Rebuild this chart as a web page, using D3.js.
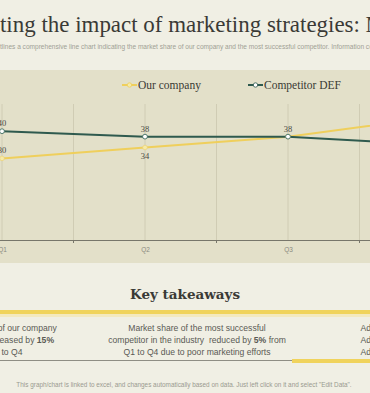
<!DOCTYPE html>
<html>
<head>
<meta charset="utf-8">
<script src="https://cdnjs.cloudflare.com/ajax/libs/d3/7.8.5/d3.min.js"></script>
<style>
  html, body { margin: 0; padding: 0; background: #f0efe4; overflow: hidden; }
</style>
</head>
<body>
<div id="chart"></div>
<script>
// Chart data
const quarters = ["Q1", "Q2", "Q3", "Q4"];
const ourCompany = [30, 34, 38, 45];
const competitor = [40, 38, 38, 35];
const seriesNames = ["Our company", "Competitor DEF"];

const width = 370;
const height = 393;

const svg = d3
  .select("#chart")
  .append("svg")
  .attr("width", width)
  .attr("height", height)
  .style("display", "block");

svg.append("rect").attr("width", width).attr("height", height).attr("fill", "#f0efe4");

// measure helper, used to fit the cropped slide texts
function measure(str, family, size) {
  const t = svg.append("text").style("font-family", family).style("font-size", size + "px").text(str);
  const w = t.node().getComputedTextLength();
  t.remove();
  return w;
}

// Title (the slide is cropped, so it starts left of the frame)
const titleFont = "'Liberation Serif', serif";
const titleSize = (25 * 360) / measure("ting the impact of marketing strategies:", titleFont, 25);
svg
  .append("text")
  .attr("x", -measure("Evalua", titleFont, titleSize))
  .attr("y", 32)
  .style("font-family", titleFont)
  .style("font-size", titleSize + "px")
  .attr("fill", "#3a3a36")
  .text("Evaluating the impact of marketing strategies: Market share");

const subFont = "'Liberation Sans', sans-serif";
const subSize =
  (6 * 370) /
  measure(
    "tlines a comprehensive line chart indicating the market share of our company and the most successful competitor. Information c",
    subFont,
    6
  );
svg
  .append("text")
  .attr("x", -measure("This slide ou", subFont, subSize))
  .attr("y", 49)
  .style("font-family", subFont)
  .style("font-size", subSize + "px")
  .attr("fill", "#a09f95")
  .text(
    "This slide outlines a comprehensive line chart indicating the market share of our company and the most successful competitor. Information covered in this slide is related to key takeaways."
  );

// Chart panel
svg.append("rect").attr("x", 0).attr("y", 70).attr("width", width).attr("height", 193).attr("fill", "#e3e0c9");

// Scales
const x = d3.scalePoint().domain(quarters).range([2, 431]);
const step = x.step();
const y = d3.scaleLinear().domain([0, 50]).range([240, 104]);

// vertical gridlines at categories and boundaries
const gridX = [];
quarters.forEach((q) => {
  gridX.push(x(q));
  gridX.push(x(q) + step / 2);
});
svg
  .selectAll(".grid")
  .data(gridX)
  .enter()
  .append("line")
  .attr("x1", (d) => d)
  .attr("x2", (d) => d)
  .attr("y1", y(50))
  .attr("y2", y(0))
  .attr("stroke", "#d0ccb4")
  .attr("stroke-width", 1);

// x axis
const xAxis = d3.axisBottom(x).tickSize(0).tickPadding(7);
const gx = svg.append("g").attr("transform", `translate(0, ${y(0)})`).call(xAxis);
gx.select(".domain").attr("stroke", "#77766a").attr("d", `M-10,0.5H${width + 10}`);
gx.selectAll("text")
  .style("font-family", "'Liberation Sans', sans-serif")
  .style("font-size", "6.5px")
  .attr("fill", "#8a8a80");
svg
  .selectAll(".tick-b")
  .data(quarters)
  .enter()
  .append("line")
  .attr("x1", (d) => x(d) + step / 2)
  .attr("x2", (d) => x(d) + step / 2)
  .attr("y1", y(0))
  .attr("y2", y(0) + 3)
  .attr("stroke", "#77766a");

// Lines
const line = d3
  .line()
  .x((d, i) => x(quarters[i]))
  .y((d) => y(d));

svg
  .append("path")
  .datum(ourCompany)
  .attr("d", line)
  .attr("fill", "none")
  .attr("stroke", "#efcf5c")
  .attr("stroke-width", 2);

svg
  .append("path")
  .datum(competitor)
  .attr("d", line)
  .attr("fill", "none")
  .attr("stroke", "#2f5a4e")
  .attr("stroke-width", 2);

// markers
svg
  .selectAll(".m-our")
  .data(ourCompany)
  .enter()
  .append("circle")
  .attr("cx", (d, i) => x(quarters[i]))
  .attr("cy", (d) => y(d))
  .attr("r", 2.3)
  .attr("fill", "#f6eaa8")
  .attr("stroke", "#ecd070")
  .attr("stroke-width", 0.6);

svg
  .selectAll(".m-comp")
  .data(competitor)
  .enter()
  .append("circle")
  .attr("cx", (d, i) => x(quarters[i]))
  .attr("cy", (d) => y(d))
  .attr("r", 2.4)
  .attr("fill", "#ffffff")
  .attr("stroke", "#3f6e62")
  .attr("stroke-width", 0.9);

// data labels
const labelFont = "'Liberation Serif', serif";
svg
  .selectAll(".l-comp")
  .data(competitor)
  .enter()
  .append("text")
  .attr("x", (d, i) => x(quarters[i]))
  .attr("y", (d) => y(d) - 5)
  .attr("text-anchor", "middle")
  .style("font-family", labelFont)
  .style("font-size", "8.5px")
  .attr("fill", "#4a4a44")
  .text((d) => d);

// our company labels: skip where they sit on top of the competitor label
const ourBelow = [false, true, false, true];
svg
  .selectAll(".l-our")
  .data(ourCompany.map((v, i) => ({ v, i })).filter((d) => d.v !== competitor[d.i]))
  .enter()
  .append("text")
  .attr("x", (d) => x(quarters[d.i]))
  .attr("y", (d) => (ourBelow[d.i] ? y(d.v) + 11 : y(d.v) - 5))
  .attr("text-anchor", "middle")
  .style("font-family", labelFont)
  .style("font-size", "8.5px")
  .attr("fill", "#4a4a44")
  .text((d) => d.v);

// Legend
const legendX = [122, 248];
const legendColors = ["#efcf5c", "#2f5a4e"];
const legendFill = ["#f6eaa8", "#ffffff"];
seriesNames.forEach((name, i) => {
  const g = svg.append("g").attr("transform", `translate(${legendX[i]}, 85)`);
  g.append("line").attr("x1", 0).attr("x2", 15).attr("y1", 0).attr("y2", 0)
    .attr("stroke", legendColors[i]).attr("stroke-width", 2);
  g.append("circle").attr("cx", 7.5).attr("cy", 0).attr("r", 2.2)
    .attr("fill", legendFill[i]).attr("stroke", legendColors[i]).attr("stroke-width", 0.8);
  g.append("text")
    .attr("x", 16)
    .attr("y", 4)
    .style("font-family", "'Liberation Serif', serif")
    .style("font-size", "11.5px")
    .attr("fill", "#3a3a34")
    .text(name);
});

// Key takeaways
svg
  .append("text")
  .attr("x", 185)
  .attr("y", 299)
  .attr("text-anchor", "middle")
  .style("font-family", "'DejaVu Serif', serif")
  .style("font-weight", "bold")
  .style("font-size", "13.5px")
  .attr("fill", "#3a3a36")
  .text("Key takeaways");

svg.append("rect").attr("x", 0).attr("y", 310).attr("width", width).attr("height", 4).attr("fill", "#f0d35c");
svg.append("rect").attr("x", 0).attr("y", 314).attr("width", width).attr("height", 3).attr("fill", "#f3e9bf");

const takeaways = [
  { cx: 1, lines: [["Market share of our company"], ["has been increased by ", "15%"], ["Q1 to Q4"]] },
  { cx: 197, lines: [["Market share of the most successful"], ["competitor in the industry  reduced by ", "5%", " from"], ["Q1 to Q4 due to poor marketing efforts"]] },
  { cx: 386, lines: [["Add text here"], ["Add text here"], ["Add text here"]] },
];
takeaways.forEach((col) => {
  col.lines.forEach((parts, li) => {
    const t = svg
      .append("text")
      .attr("x", col.cx + (col.cx === 1 && li === 2 ? 4 : 0))
      .attr("y", 331 + li * 12)
      .attr("text-anchor", "middle")
      .style("font-family", "'Liberation Sans', sans-serif")
      .style("font-size", "8.6px")
      .style("white-space", "pre")
      .attr("fill", "#5a5a54");
    parts.forEach((p, pi) => {
      t.append("tspan")
        .style("font-weight", pi === 1 ? "bold" : "normal")
        .text(p);
    });
  });
});

svg.append("line").attr("x1", 0).attr("x2", 292).attr("y1", 360.5).attr("y2", 360.5)
  .attr("stroke", "#8f8e84").attr("stroke-width", 1);
svg.append("rect").attr("x", 292).attr("y", 359).attr("width", 80).attr("height", 4).attr("fill", "#f0d35c");

svg
  .append("text")
  .attr("x", 184)
  .attr("y", 387)
  .attr("text-anchor", "middle")
  .style("font-family", "'Liberation Sans', sans-serif")
  .style("font-size", "6.4px")
  .attr("fill", "#9a9a90")
  .text('This graph/chart is linked to excel, and changes automatically based on data. Just left click on it and select "Edit Data".');
</script>
</body>
</html>
